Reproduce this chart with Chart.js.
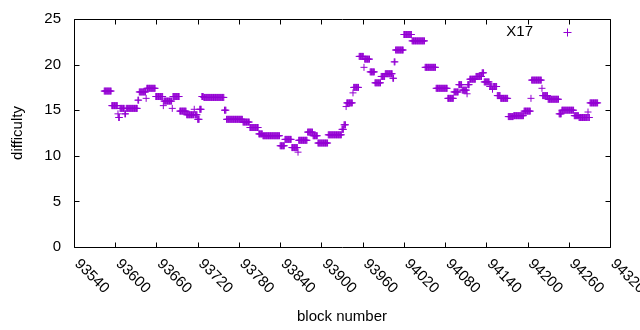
<!DOCTYPE html>
<html>
<head>
<meta charset="utf-8">
<script src="https://cdn.jsdelivr.net/npm/chart.js@4.4.0/dist/chart.umd.min.js"></script>
<style>
  html, body { margin: 0; padding: 0; background: #fff; }
  #wrap { width: 640px; height: 330px; }
</style>
</head>
<body>
<div id="wrap"><canvas id="diffChart" width="640" height="330"></canvas></div>
<script>
// values: difficulty holds each value from its start block to the next start
const seriesName = 'X17';
const xTicks = [93540, 93600, 93660, 93720, 93780, 93840, 93900, 93960, 94020, 94080, 94140, 94200, 94260, 94320];
const runStartBlock = [
  93584, 93595, 93604, 93605, 93607, 93614, 93616, 93633, 93635, 93645,
  93646, 93659, 93670, 93671, 93683, 93684, 93694, 93704, 93715, 93716,
  93720, 93723, 93726, 93729, 93759, 93762, 93786, 93796, 93809, 93815,
  93840, 93847, 93857, 93866, 93867, 93880, 93888, 93895, 93910, 93930,
  93933, 93936, 93937, 93946, 93947, 93955, 93962, 93963, 93971, 93978,
  93987, 93993, 94004, 94006, 94008, 94020, 94032, 94051, 94067, 94084,
  94093, 94100, 94105, 94112, 94113, 94116, 94125, 94134, 94137, 94145,
  94149, 94150, 94156, 94161, 94172, 94180, 94195, 94205, 94206, 94221,
  94222, 94230, 94246, 94250, 94268, 94275, 94288, 94289, 94291
];
const runDifficulty = [
  17.1, 15.5, 14.6, 14.2, 15.2, 14.6, 15.2, 16.1, 17.0, 16.3,
  17.4, 16.5, 15.5, 16.0, 15.2, 16.5, 14.9, 14.5, 15.1, 14.5,
  14.0, 15.1, 16.5, 16.4, 15.0, 14.0, 13.7, 13.1, 12.4, 12.2,
  11.1, 11.8, 10.9, 10.4, 11.7, 12.6, 12.2, 11.4, 12.3, 12.9,
  13.4, 15.4, 15.8, 16.9, 17.5, 20.9, 19.7, 20.6, 19.2, 18.0,
  18.7, 19.0, 18.5, 20.3, 21.6, 23.3, 22.6, 19.7, 17.4, 16.3,
  17.0, 17.8, 17.2, 16.8, 17.8, 18.4, 18.7, 19.1, 18.1, 17.6,
  17.3, 17.6, 16.6, 16.3, 14.3, 14.4, 14.9, 16.3, 18.3, 17.4,
  16.6, 16.2, 14.6, 15.0, 14.4, 14.2, 14.8, 14.2, 15.8
];
const lastBlock = 94302;

const purple = '#9400D3';

const points = [];
for (let i = 0; i < runStartBlock.length; i++) {
  const end = i + 1 < runStartBlock.length ? runStartBlock[i + 1] - 1 : lastBlock;
  for (let b = runStartBlock[i]; b <= end; b++) {
    points.push({ x: b, y: runDifficulty[i] });
  }
}

Chart.defaults.font.family = "'Liberation Sans', Arial, sans-serif";
Chart.defaults.font.size = 15;
Chart.defaults.color = '#000';

// gnuplot style frame: box, inward ticks on all sides, rotated x labels, key
const gnuplotFrame = {
  id: 'gnuplotFrame',
  afterDraw(chart) {
    const ctx = chart.ctx;
    const a = chart.chartArea;
    const xs = chart.scales.x;
    const ys = chart.scales.y;
    const L = Math.round(a.left) + 0.5, R = Math.round(a.right) + 0.5;
    const T = Math.round(a.top) + 0.5, B = Math.round(a.bottom) + 0.5;
    ctx.save();
    ctx.strokeStyle = '#000';
    ctx.lineWidth = 1;
    ctx.beginPath();
    ctx.rect(L, T, R - L, B - T);
    xTicks.forEach(v => {
      const px = Math.round(xs.getPixelForValue(v)) + 0.5;
      ctx.moveTo(px, B); ctx.lineTo(px, B - 5);
      ctx.moveTo(px, T); ctx.lineTo(px, T + 5);
    });
    ys.ticks.forEach(t => {
      const py = Math.round(ys.getPixelForValue(t.value)) + 0.5;
      ctx.moveTo(L, py); ctx.lineTo(L + 5, py);
      ctx.moveTo(R, py); ctx.lineTo(R - 5, py);
    });
    ctx.stroke();

    ctx.fillStyle = '#000';
    ctx.font = "15px 'Liberation Sans', Arial, sans-serif";
    ctx.textAlign = 'left';
    ctx.textBaseline = 'middle';
    xTicks.forEach(v => {
      const px = xs.getPixelForValue(v);
      ctx.save();
      ctx.translate(px + 3, B + 14);
      ctx.rotate(Math.PI / 4);
      ctx.fillText(String(v), 0, 0);
      ctx.restore();
    });

    // key
    ctx.textAlign = 'right';
    ctx.fillText(seriesName, 533, 32);
    ctx.strokeStyle = purple;
    ctx.beginPath();
    ctx.moveTo(563.5, 32.5); ctx.lineTo(571.5, 32.5);
    ctx.moveTo(567.5, 28.5); ctx.lineTo(567.5, 36.5);
    ctx.stroke();
    ctx.restore();
  }
};

new Chart(document.getElementById('diffChart'), {
  type: 'scatter',
  data: {
    datasets: [{
      label: seriesName,
      data: points,
      pointStyle: 'cross',
      pointRadius: 3.5,
      pointHoverRadius: 3.5,
      borderWidth: 1,
      borderColor: purple,
      backgroundColor: purple
    }]
  },
  options: {
    responsive: false,
    animation: false,
    events: [],
    layout: { padding: { top: 19, right: 30, left: 0, bottom: 0 } },
    plugins: {
      legend: { display: false },
      tooltip: { enabled: false }
    },
    scales: {
      x: {
        type: 'linear',
        min: 93540,
        max: 94320,
        grid: { display: false },
        border: { display: false },
        ticks: { display: false, stepSize: 60 },
        title: { display: true, text: 'block number', padding: { top: 4, bottom: 4 } },
        afterFit: s => { s.height = 83; s.paddingLeft = 0; s.paddingRight = 0; }
      },
      y: {
        min: 0,
        max: 25,
        grid: { display: false, drawTicks: false },
        border: { display: false },
        ticks: { stepSize: 5, padding: 13 },
        title: { display: true, text: 'difficulty', padding: { top: 9, bottom: 0 } },
        afterFit: s => { s.width = 74; s.paddingTop = 0; s.paddingBottom = 0; }
      }
    }
  },
  plugins: [gnuplotFrame]
});
</script>
</body>
</html>
